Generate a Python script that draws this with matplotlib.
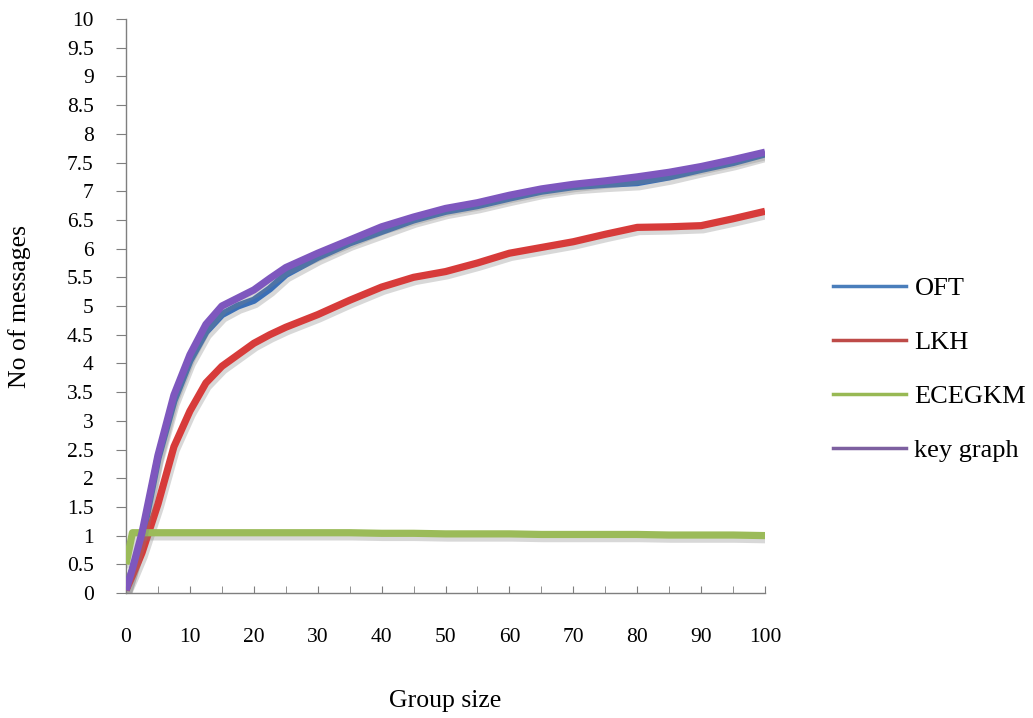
import matplotlib
matplotlib.use("Agg")
import matplotlib.pyplot as plt
import matplotlib.patheffects as pe
from matplotlib.lines import Line2D
from matplotlib.ticker import MultipleLocator, FuncFormatter

# Group sizes at which the message counts were measured
group_size = [0, 1, 2.5, 5, 7.5, 10, 12.5, 15, 17.5, 20, 22.5, 25, 30, 35, 40, 45, 50,
              55, 60, 65, 70, 75, 80, 85, 90, 95, 100]

oft = [0.05, 0.4, 0.95, 2.35, 3.35, 4.05, 4.55, 4.85, 5.0, 5.1, 5.3, 5.55, 5.85, 6.1,
       6.3, 6.5, 6.65, 6.75, 6.88, 7.0, 7.08, 7.12, 7.15, 7.25, 7.38, 7.5, 7.65]
lkh = [0.05, 0.3, 0.7, 1.55, 2.55, 3.17, 3.66, 3.95, 4.15, 4.35, 4.5, 4.63, 4.85, 5.1,
       5.33, 5.5, 5.6, 5.75, 5.92, 6.02, 6.12, 6.25, 6.37, 6.38, 6.4, 6.52, 6.65]
ecegkm = [0.5, 1.05, 1.05, 1.05, 1.05, 1.05, 1.05, 1.05, 1.05, 1.05, 1.05, 1.05, 1.05,
          1.05, 1.04, 1.04, 1.03, 1.03, 1.03, 1.02, 1.02, 1.02, 1.02, 1.01, 1.01,
          1.01, 1.0]
key_graph = [0.05, 0.42, 1.05, 2.4, 3.45, 4.15, 4.68, 5.0, 5.14, 5.28, 5.48, 5.67, 5.92,
             6.15, 6.38, 6.55, 6.7, 6.8, 6.93, 7.04, 7.12, 7.18, 7.25, 7.33, 7.43,
             7.55, 7.68]

series_names = ["OFT", "LKH", "ECEGKM", "key graph"]
series_values = [oft, lkh, ecegkm, key_graph]
series_colors = ["#3B6FB6", "#D73B3A", "#9BBB59", "#7E57BE"]
legend_colors = ["#4A7EBB", "#BE4B48", "#98B954", "#7D60A0"]

plt.rcParams["font.family"] = ["Liberation Serif", "DejaVu Serif"]

fig = plt.figure(figsize=(10.33, 7.18), dpi=100)
ax = fig.add_axes([0.122, 0.1741, 0.6186, 0.7994])

shadow = [pe.SimpleLineShadow(offset=(1.5, -3), shadow_color="#808080", alpha=0.3),
          pe.Normal()]

for name, vals, col in zip(series_names, series_values, series_colors):
    ax.plot(group_size, vals, color=col, lw=5.2,
            solid_joinstyle="round", solid_capstyle="butt",
            path_effects=shadow, label=name, zorder=3)

ax.set_xlim(0, 100)
ax.set_ylim(0, 10)

for side in ("top", "right"):
    ax.spines[side].set_visible(False)
for side in ("left", "bottom"):
    ax.spines[side].set_color("#7f7f7f")
    ax.spines[side].set_linewidth(1.0)

ax.xaxis.set_major_locator(MultipleLocator(10))
ax.xaxis.set_minor_locator(MultipleLocator(5))
ax.yaxis.set_major_locator(MultipleLocator(0.5))
ax.yaxis.set_major_formatter(FuncFormatter(lambda v, p: f"{v:g}"))

ax.tick_params(axis="x", which="both", direction="in", length=5,
               color="#7f7f7f", pad=25, labelsize=15.5)
ax.tick_params(axis="y", which="major", direction="out", length=7.2,
               color="#7f7f7f", pad=16, labelsize=15.5)

# Axis titles
fig.text(445.5 / 1033, 1 - 701 / 718, "Group size", fontsize=18.5,
         ha="center", va="center")
fig.text(20 / 1033, 1 - 306 / 718, "No of messages", fontsize=18.5,
         rotation=90, ha="center", va="center")

# Legend to the right of the plot area
leg_handles = [Line2D([], [], color=c, lw=2.5) for c in legend_colors]
fig.legend(leg_handles, series_names, loc="center left",
           bbox_to_anchor=(0.783, 0.4855), frameon=False, fontsize=19,
           handlelength=2.8, handletextpad=0.3, labelspacing=1.15)

fig.savefig("out.png", dpi=100)
